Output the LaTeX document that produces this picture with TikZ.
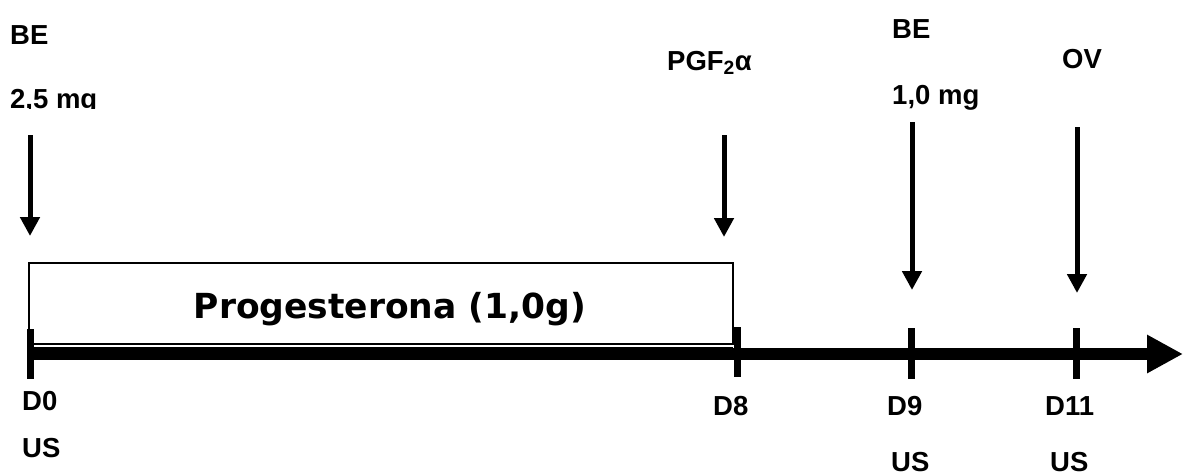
\documentclass[tikz,border=0pt]{standalone}
\usepackage{fontspec}
\setmainfont{Liberation Sans}
\newfontfamily\progfont{DejaVu Sans}
\usetikzlibrary{arrows.meta}
\tikzset{
  lbl/.style={anchor=base west,inner sep=0pt,font=\fontsize{27.5}{32}\selectfont\bfseries},
  dose/.style={line width=5pt,-{Triangle[width=19pt,length=19pt]}},
  tick/.style={line width=7pt},
  axis/.style={line width=12pt,-{Triangle[width=36pt,length=36pt]}},
  box/.style={draw,line width=1.5pt}
}
\begin{document}
\begin{tikzpicture}[x=1pt,y=-1pt]
\useasboundingbox (0,0) rectangle (1183,475);
% treatment box
\draw[box] (29,344) rectangle (733,263);
\draw[line width=1.2pt] (30,347.5) -- (733,347.5);
\node[anchor=base,inner sep=0pt,font=\progfont\fontsize{34.5}{40}\selectfont\bfseries] (prog) at (390,318) {Progesterona (1,0g)};
% axis
\coordinate (axs) at (30,354);
\coordinate (axe) at (1183,354);
\draw[axis] (axs) -- (axe);
% ticks
\coordinate (t0a) at (30,329); \coordinate (t0b) at (30,379);
\coordinate (t8a) at (737.5,327); \coordinate (t8b) at (737.5,377);
\coordinate (t9a) at (911,328); \coordinate (t9b) at (911,379);
\coordinate (t11a) at (1076.5,328); \coordinate (t11b) at (1076.5,379);
\draw[tick] (t0a) -- (t0b);
\draw[tick] (t8a) -- (t8b);
\draw[tick] (t9a) -- (t9b);
\draw[tick] (t11a) -- (t11b);
% dose arrows
\coordinate (a0s) at (30,135); \coordinate (a0e) at (30,236);
\coordinate (a8s) at (724,135); \coordinate (a8e) at (724,237);
\coordinate (a9s) at (912,122); \coordinate (a9e) at (912,290);
\coordinate (a11s) at (1077,127); \coordinate (a11e) at (1077,293);
\draw[dose] (a0s) -- (a0e);
\draw[dose] (a8s) -- (a8e);
\draw[dose] (a9s) -- (a9e);
\draw[dose] (a11s) -- (a11e);
% top labels
\node[lbl] (be1) at (10,44) {BE};
\begin{scope}
\clip (0,60) rectangle (200,108.5);
\node[lbl] (dose1) at (10,108) {2,5 mg};
\end{scope}
\node[lbl] (pgf) at (667,70) {PGF\textsubscript{2}α};
\node[lbl] (be2) at (892,38) {BE};
\node[lbl] (dose2) at (892,104) {1,0 mg};
\node[lbl] (ov) at (1062,68) {OV};
% bottom labels
\node[lbl] (d0) at (22,410) {D0};
\node[lbl] (us0) at (22,457) {US};
\node[lbl] (d8) at (713,415) {D8};
\node[lbl] (d9) at (887,415) {D9};
\node[lbl] (d11) at (1045,415) {D11};
\node[lbl] (us9) at (891,471) {US};
\node[lbl] (us11) at (1050,471) {US};
\end{tikzpicture}
\end{document}
